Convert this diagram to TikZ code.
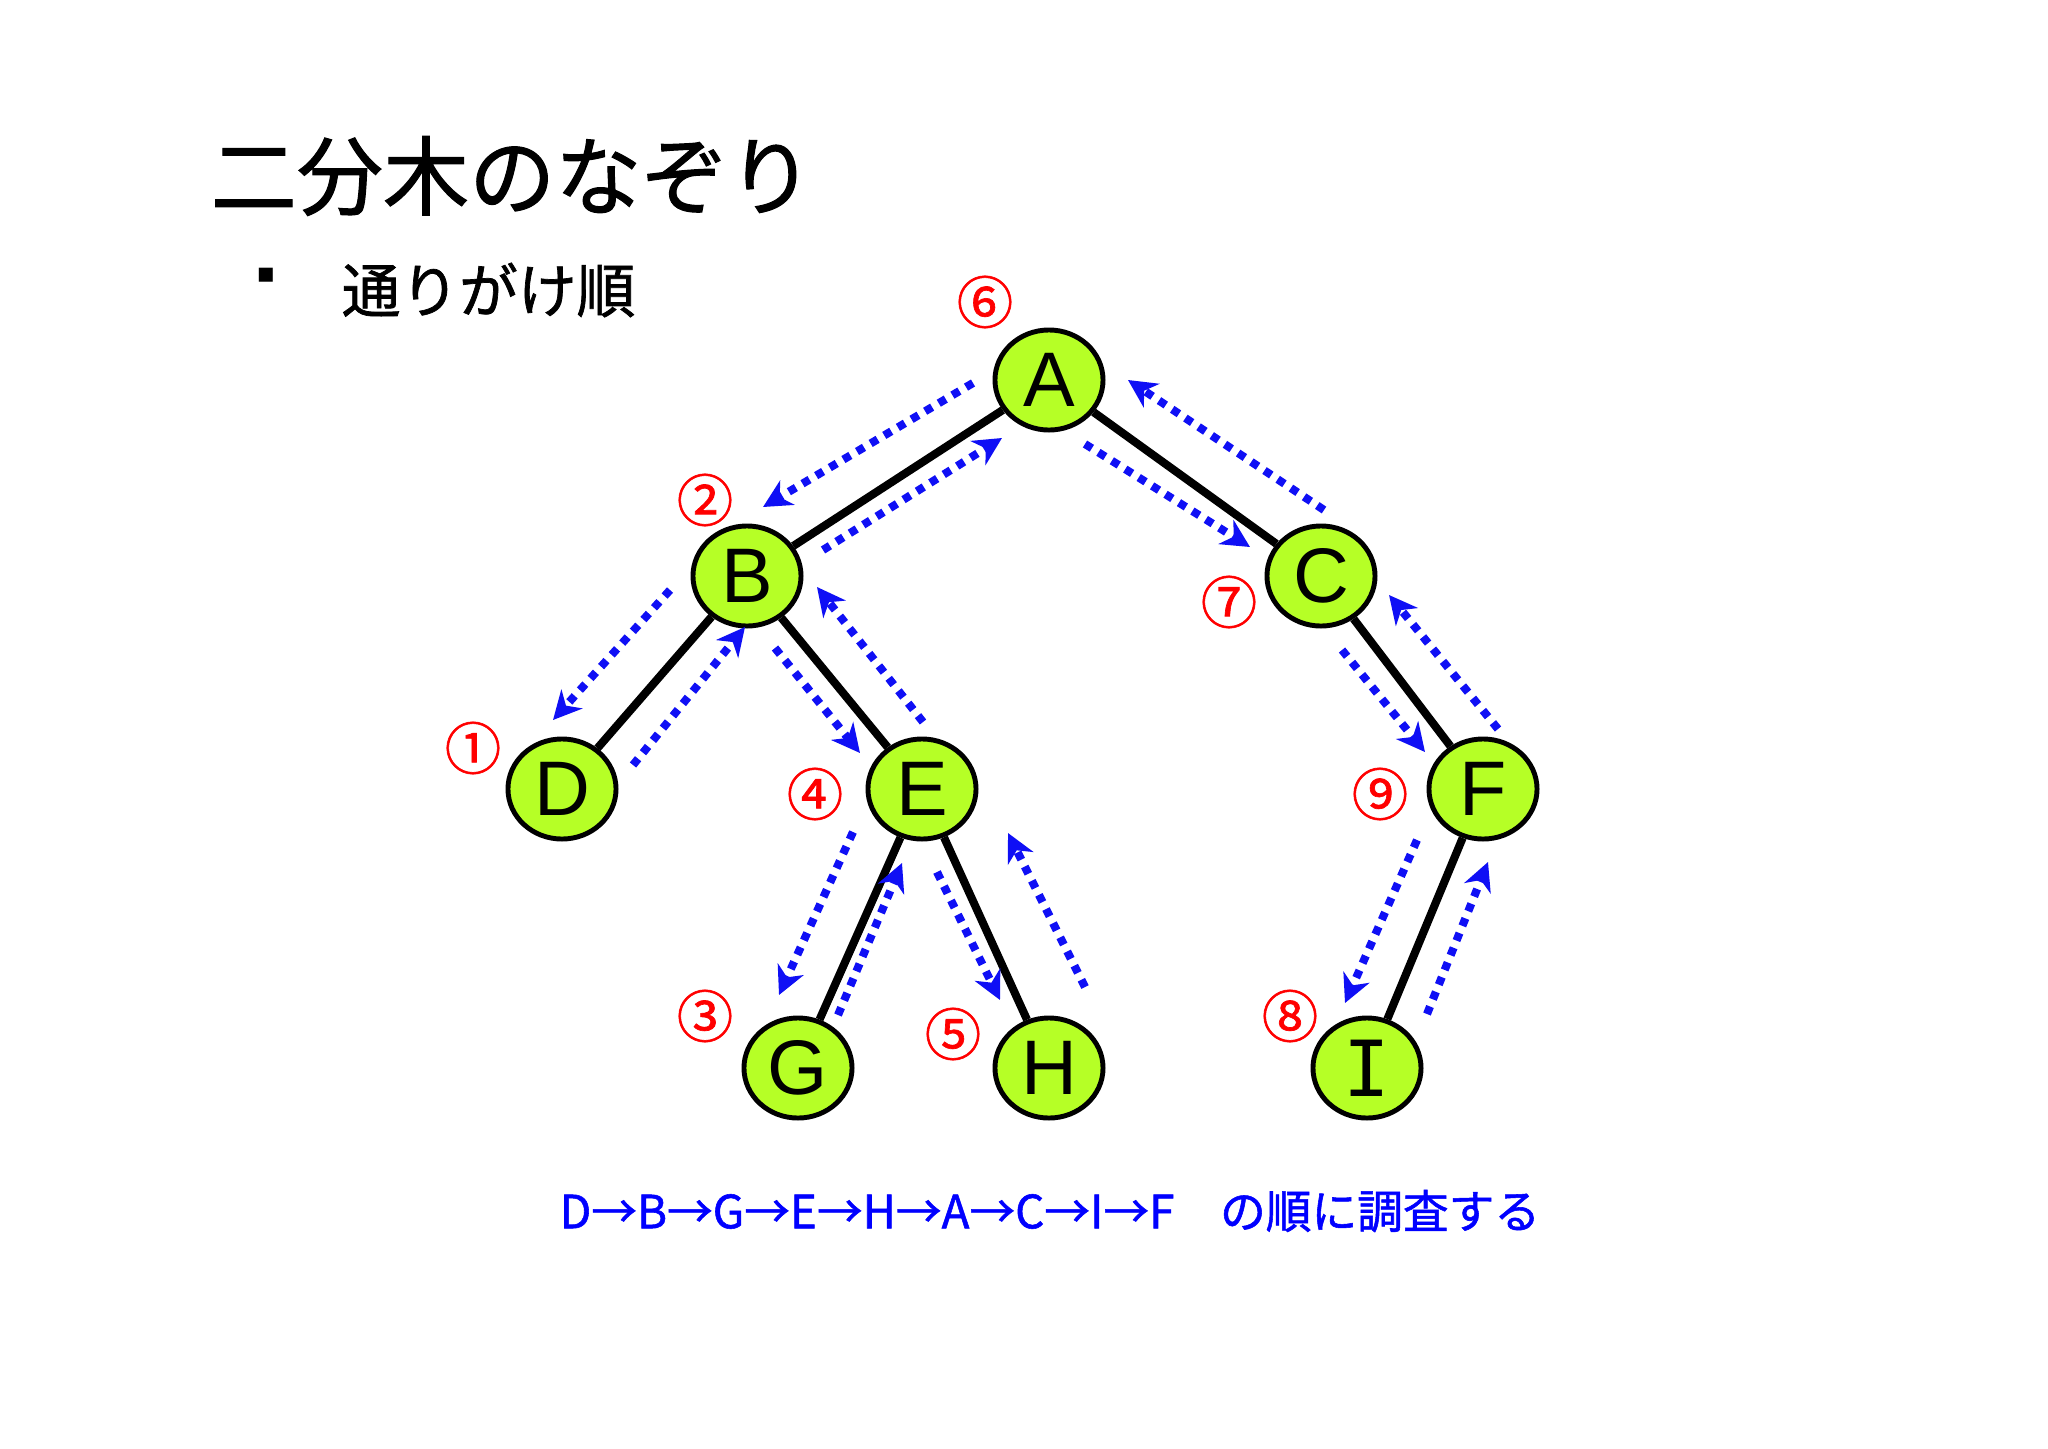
\documentclass[tikz,border=0pt]{standalone}
\usepackage{fontspec}
\setmainfont{Liberation Sans}
\newfontfamily\jp{Noto Sans CJK JP}
\newfontfamily\jpb[FakeBold=1.2]{Noto Sans CJK JP}
\newfontfamily\djv{DejaVu Sans}
\newfontfamily\djvmono{DejaVu Sans Mono}
\usetikzlibrary{arrows.meta,shapes.geometric}
\definecolor{nodegreen}{RGB}{182,255,38}
\definecolor{arrowblue}{RGB}{15,15,245}
\begin{document}
\begin{tikzpicture}[x=0.01cm,y=-0.01cm,
  tnode/.style={ellipse, draw=black, line width=1.4pt, fill=nodegreen,
    minimum width=1.08cm, minimum height=1.0cm, inner sep=0pt,
    font=\fontsize{22}{22}\selectfont},
  edge/.style={draw=black, line width=2.3pt},
  walk/.style={draw=arrowblue, line width=2.3pt, dash pattern=on 2.3pt off 2.2pt,
    -{Stealth[length=8pt,width=8pt,inset=2.5pt]}},
  numlab/.style={text=red, font=\jpb\fontsize{16}{16}\selectfont, inner sep=0pt},
]
\useasboundingbox (0,0) rectangle (2048,1448);
\fill[white] (0,0) rectangle (2048,1448);

% title
\node[anchor=west, inner sep=0pt, font=\jpb\fontsize{24.5}{26}\selectfont] (title) at (210,176) {二分木のなぞり};
\node[inner sep=0pt, font=\djv\fontsize{8}{8}\selectfont] (bullet) at (266,275) {▪};
\node[anchor=west, inner sep=0pt, font=\jpb\fontsize{16.7}{18}\selectfont] (sub) at (341,290) {通りがけ順};

% tree nodes
\node[tnode] (A) at (1049,380) {A};
\node[tnode] (B) at (747,576) {B};
\node[tnode] (C) at (1321,576) {C};
\node[tnode] (D) at (562,789) {D};
\node[tnode] (E) at (922,789) {E};
\node[tnode] (F) at (1483,789) {F};
\node[tnode] (G) at (798,1068) {G};
\node[tnode] (H) at (1049,1068) {H};
\node[tnode, font=\djvmono\fontsize{22}{22}\selectfont] (I) at (1367,1068) {I};

% edges
\draw[edge] (A) -- (B);
\draw[edge] (A) -- (C);
\draw[edge] (B) -- (D);
\draw[edge] (B) -- (E);
\draw[edge] (C) -- (F);
\draw[edge] (E) -- (G);
\draw[edge] (E) -- (H);
\draw[edge] (F) -- (I);

% walk coordinates
\coordinate (ab1) at (973,383);  \coordinate (ab2) at (763,507);
\coordinate (ba1) at (823,550);  \coordinate (ba2) at (1002,438);
\coordinate (ac1) at (1085,444); \coordinate (ac2) at (1250,547);
\coordinate (ca1) at (1324,510); \coordinate (ca2) at (1128,380);
\coordinate (bd1) at (670,590);  \coordinate (bd2) at (553,720);
\coordinate (db1) at (633,765);  \coordinate (db2) at (745,627);
\coordinate (be1) at (775,648);  \coordinate (be2) at (860,753);
\coordinate (eb1) at (923,722);  \coordinate (eb2) at (817,587);
\coordinate (eg1) at (853,832);  \coordinate (eg2) at (779,995);
\coordinate (ge1) at (838,1015); \coordinate (ge2) at (902,863);
\coordinate (eh1) at (937,872);  \coordinate (eh2) at (1000,1000);
\coordinate (he1) at (1085,987); \coordinate (he2) at (1008,833);
\coordinate (cf1) at (1342,650); \coordinate (cf2) at (1425,752);
\coordinate (fc1) at (1498,729); \coordinate (fc2) at (1389,595);
\coordinate (fi1) at (1417,840); \coordinate (fi2) at (1345,1003);
\coordinate (if1) at (1427,1014);\coordinate (if2) at (1488,862);

\draw[walk] (ab1) -- (ab2);
\draw[walk] (ba1) -- (ba2);
\draw[walk] (ac1) -- (ac2);
\draw[walk] (ca1) -- (ca2);
\draw[walk] (bd1) -- (bd2);
\draw[walk] (db1) -- (db2);
\draw[walk] (be1) -- (be2);
\draw[walk] (eb1) -- (eb2);
\draw[walk] (eg1) -- (eg2);
\draw[walk] (ge1) -- (ge2);
\draw[walk] (eh1) -- (eh2);
\draw[walk] (he1) -- (he2);
\draw[walk] (cf1) -- (cf2);
\draw[walk] (fc1) -- (fc2);
\draw[walk] (fi1) -- (fi2);
\draw[walk] (if1) -- (if2);

% order labels
\node[numlab] (n1) at (473,748) {①};
\node[numlab] (n2) at (705,500) {②};
\node[numlab] (n3) at (705,1016) {③};
\node[numlab] (n4) at (815,794) {④};
\node[numlab] (n5) at (953,1034) {⑤};
\node[numlab] (n6) at (985,302) {⑥};
\node[numlab] (n7) at (1229,602) {⑦};
\node[numlab] (n8) at (1290,1016) {⑧};
\node[numlab] (n9) at (1380,794) {⑨};

% result text
\node[text=blue, inner sep=0pt, font=\jpb\fontsize{13}{14}\selectfont] (result) at (1050,1211)
  {D→B→G→E→H→A→C→I→F　の順に調査する};
\end{tikzpicture}
\end{document}
